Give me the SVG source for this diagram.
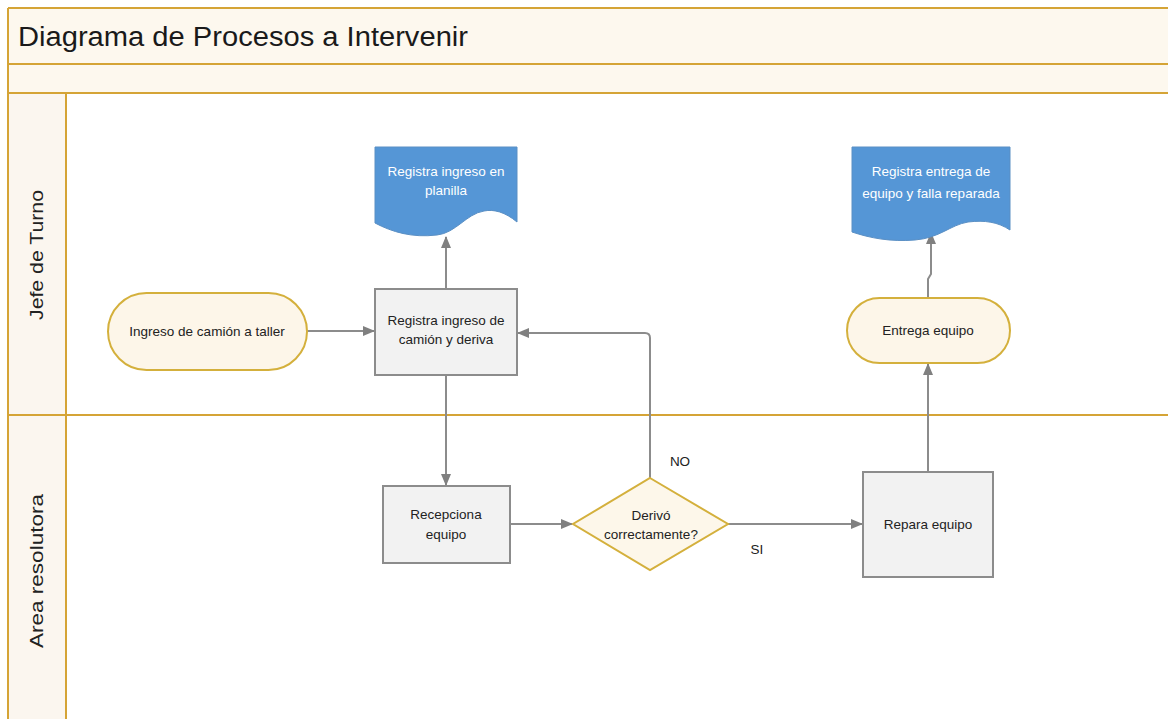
<svg xmlns="http://www.w3.org/2000/svg" width="1168" height="719" viewBox="0 0 1168 719">
  <style>
    .frame { fill: none; stroke: #d5a436; stroke-width: 2; }
    .band { fill: #fdf8ee; stroke: none; }
    .lanecol { fill: #fbf6ef; stroke: none; }
    .term { fill: #fdf6e9; stroke: #d4b03c; stroke-width: 2; }
    .dec { fill: #fdf7ea; stroke: #d4b03c; stroke-width: 2; }
    .proc { fill: #f2f2f2; stroke: #8c8c8c; stroke-width: 2; }
    .doc { fill: #5596d6; stroke: #5a8fc4; stroke-width: 1; }
    .lbl { font-family: "Liberation Sans", Arial, sans-serif; font-size: 13.5px; fill: #222; text-anchor: middle; }
    .dlbl { font-family: "Liberation Sans", Arial, sans-serif; font-size: 13.5px; fill: #ffffff; text-anchor: middle; }
    .lane { font-family: "Liberation Sans", Arial, sans-serif; font-size: 19px; fill: #222; text-anchor: middle; }
    .title { font-family: "Liberation Sans", Arial, sans-serif; font-size: 27px; fill: #1a1a1a; }
    .conn { fill: none; stroke: #8c8c8c; stroke-width: 2; }
  </style>
  <defs>
    <marker id="arrow" markerUnits="userSpaceOnUse" markerWidth="12" markerHeight="12" viewBox="0 0 12 12" refX="11" refY="6" orient="auto">
      <path d="M0,1 L12,6 L0,11 Z" fill="#808080"/>
    </marker>
  </defs>

  <!-- page background -->
  <rect x="0" y="0" width="1168" height="719" fill="#ffffff"/>

  <!-- pool: title band, header band, lane label column -->
  <g id="pool">
    <rect class="band" x="8" y="8" width="1160" height="85"/>
    <rect class="lanecol" x="8" y="93" width="58" height="626"/>
    <line class="frame" x1="8" y1="8" x2="1168" y2="8"/>
    <line class="frame" x1="8" y1="8" x2="8" y2="719"/>
    <line class="frame" x1="8" y1="64" x2="1168" y2="64"/>
    <line class="frame" x1="8" y1="93" x2="1168" y2="93" stroke="#c9a646"/>
    <line class="frame" x1="66" y1="93" x2="66" y2="719"/>
    <line class="frame" x1="8" y1="415" x2="1168" y2="415" stroke="#d39a2c"/>
    <text class="title" x="18" y="46" textLength="450" lengthAdjust="spacingAndGlyphs">Diagrama de Procesos a Intervenir</text>
  </g>

  <g id="lane-jefe">
    <text class="lane" transform="translate(43,255) rotate(-90)" textLength="130" lengthAdjust="spacingAndGlyphs">Jefe de Turno</text>
  </g>
  <g id="lane-area">
    <text class="lane" transform="translate(43,571) rotate(-90)" textLength="154" lengthAdjust="spacingAndGlyphs">Area resolutora</text>
  </g>

  <!-- connectors -->
  <g id="connectors">
    <path class="conn" d="M307,331 H374" marker-end="url(#arrow)"/>
    <path class="conn" d="M446,289 V237" marker-end="url(#arrow)"/>
    <path class="conn" d="M446,375 V485" marker-end="url(#arrow)"/>
    <path class="conn" d="M510,524 H572" marker-end="url(#arrow)"/>
    <path class="conn" d="M650,478 V338 Q650,333 645,333 H518" marker-end="url(#arrow)"/>
    <path class="conn" d="M728,524 H862" marker-end="url(#arrow)"/>
    <path class="conn" d="M928,472 V364" marker-end="url(#arrow)"/>
    <path class="conn" d="M928,298 V279 L931,274 V233" marker-end="url(#arrow)"/>
    <text class="lbl" x="680" y="466">NO</text>
    <text class="lbl" x="757" y="554">SI</text>
  </g>

  <!-- nodes -->
  <g id="n-ingreso">
    <rect class="term" x="108" y="293" width="199" height="77" rx="38.5" ry="38.5"/>
    <text class="lbl" x="207" y="336">Ingreso de camión a taller</text>
  </g>

  <g id="n-registra">
    <rect class="proc" x="375" y="289" width="142" height="86"/>
    <text class="lbl" x="446" y="325">Registra ingreso de</text>
    <text class="lbl" x="446" y="344">camión y deriva</text>
  </g>

  <g id="n-planilla">
    <path class="doc" d="M375,147 H517 V222 C505,212 494,209 484,211 C466,214 456,233 437,235 C412,238 392,232 375,223 Z"/>
    <text class="dlbl" x="446" y="176">Registra ingreso en</text>
    <text class="dlbl" x="446" y="195">planilla</text>
  </g>

  <g id="n-recepciona">
    <rect class="proc" x="383" y="486" width="127" height="77"/>
    <text class="lbl" x="446" y="519">Recepciona</text>
    <text class="lbl" x="446" y="539">equipo</text>
  </g>

  <g id="n-derivo">
    <polygon class="dec" points="650,478 728,524 650,570 573,524"/>
    <text class="lbl" x="651" y="520">Derivó</text>
    <text class="lbl" x="651" y="539">correctamente?</text>
  </g>

  <g id="n-repara">
    <rect class="proc" x="863" y="472" width="130" height="105"/>
    <text class="lbl" x="928" y="529">Repara equipo</text>
  </g>

  <g id="n-entrega">
    <rect class="term" x="847" y="298" width="163" height="65" rx="32.5" ry="32.5"/>
    <text class="lbl" x="928" y="335">Entrega equipo</text>
  </g>

  <g id="n-entrega-doc">
    <path class="doc" d="M852,147 H1010 V230 C998,222 985,220 968,222 C950,225 940,238 915,240 C890,242 870,238 852,232 Z"/>
    <text class="dlbl" x="931" y="176">Registra entrega de</text>
    <text class="dlbl" x="931" y="198">equipo y falla reparada</text>
  </g>
</svg>
